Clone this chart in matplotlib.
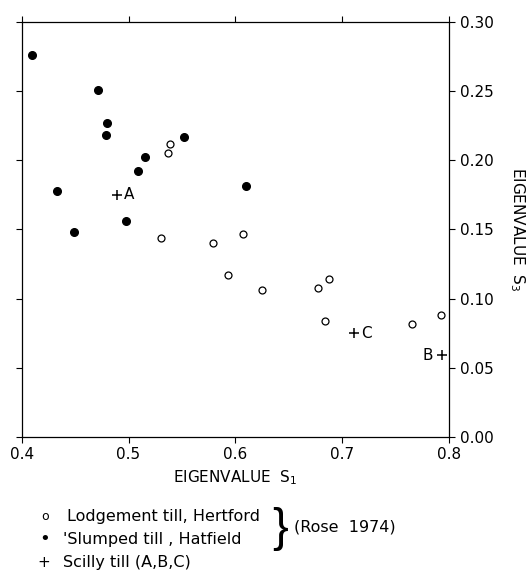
import matplotlib.pyplot as plt

# Lodgement till, Hertford (open circles)
lodge_s1 = [0.539, 0.537, 0.530, 0.579, 0.607, 0.593, 0.625, 0.677, 0.688, 0.684, 0.765, 0.792]
lodge_s3 = [0.212, 0.205, 0.144, 0.140, 0.147, 0.117, 0.106, 0.108, 0.114, 0.084, 0.082, 0.088]

# 'Slumped till', Hatfield (filled circles)
slump_s1 = [0.410, 0.471, 0.480, 0.479, 0.552, 0.515, 0.509, 0.433, 0.610, 0.498, 0.449]
slump_s3 = [0.276, 0.251, 0.227, 0.218, 0.217, 0.202, 0.192, 0.178, 0.181, 0.156, 0.148]

# Scilly till (crosses)
scilly_names = ["A", "B", "C"]
scilly_s1 = [0.489, 0.793, 0.711]
scilly_s3 = [0.175, 0.059, 0.075]

x_ticks = [0.4, 0.5, 0.6, 0.7, 0.8]
y_ticks = [0.00, 0.05, 0.10, 0.15, 0.20, 0.25, 0.30]

plt.rcParams['font.family'] = ['DejaVu Sans']

fig = plt.figure(figsize=(5.29, 5.72), dpi=100)
ax = fig.add_axes([0.041, 0.236, 0.808, 0.726])

ax.plot(lodge_s1, lodge_s3, 'o', mfc='white', mec='black', mew=0.9, ms=5)
ax.plot(slump_s1, slump_s3, 'o', color='black', ms=5.5)
ax.plot(scilly_s1, scilly_s3, '+', color='black', ms=7, mew=1.1)

# labels next to the crosses
for name, x, y in zip(scilly_names, scilly_s1, scilly_s3):
    if name == "B":
        ax.annotate(name, (x, y), xytext=(-6, 0), textcoords='offset points',
                    ha='right', va='center', fontsize=11)
    else:
        ax.annotate(name, (x, y), xytext=(5, 0), textcoords='offset points',
                    ha='left', va='center', fontsize=11)

ax.set_xlim(0.4, 0.8)
ax.set_ylim(0.0, 0.30)
ax.set_xticks(x_ticks)
ax.set_xticklabels([f"{v:.1f}" for v in x_ticks], fontsize=11)
ax.set_yticks(y_ticks)
ax.set_yticklabels([f"{v:.2f}" for v in y_ticks], fontsize=11)
ax.tick_params(direction='out', length=4, width=0.8,
               top=True, bottom=True, left=True, right=True,
               labelleft=False, labelright=True, labeltop=False, labelbottom=True)
for s in ax.spines.values():
    s.set_linewidth(0.9)

ax.set_xlabel(r"EIGENVALUE  S$_1$", fontsize=11, labelpad=4)
ax.yaxis.set_label_position('right')
ax.set_ylabel(r"EIGENVALUE  S$_3$", fontsize=11, rotation=-90, labelpad=24)

# key below the plot
fig.text(0.085, 0.097, "o", fontsize=9, ha='center', va='center')
fig.text(0.127, 0.097, "Lodgement till, Hertford", fontsize=11.5, va='center')
fig.text(0.085, 0.057, "\u2022", fontsize=13, ha='center', va='center')
fig.text(0.119, 0.057, "'Slumped till , Hatfield", fontsize=11.5, va='center')
fig.text(0.082, 0.017, "+", fontsize=11, ha='center', va='center')
fig.text(0.119, 0.017, "Scilly till (A,B,C)", fontsize=11.5, va='center')
fig.text(0.529, 0.075, "}", fontsize=34, ha='center', va='center',
         family='Liberation Sans')
fig.text(0.556, 0.078, "(Rose  1974)", fontsize=11.5, va='center')

fig.savefig("out.png", dpi=100)
